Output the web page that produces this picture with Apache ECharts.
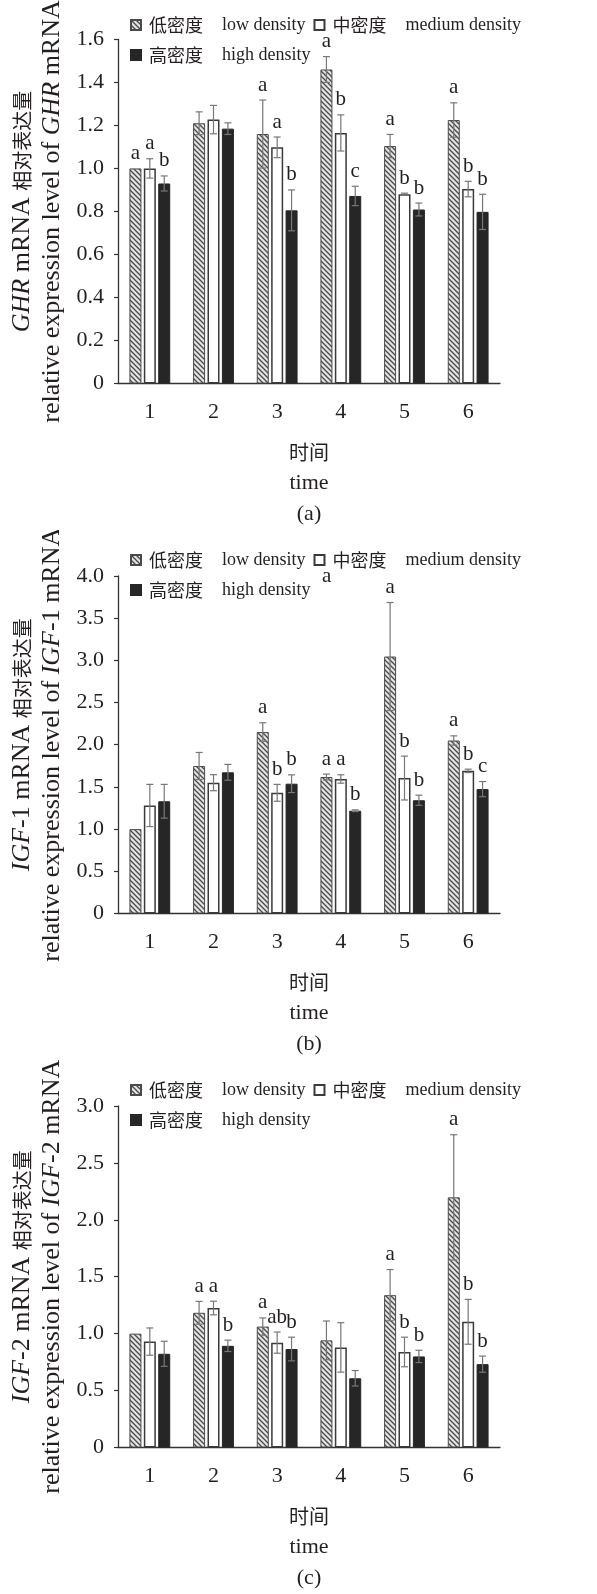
<!DOCTYPE html>
<html><head><meta charset="utf-8">
<script src="https://cdn.jsdelivr.net/npm/echarts@6/dist/echarts.min.js"></script>
<style>
html,body{margin:0;padding:0;background:#fff;}
.panel{position:absolute;left:0;width:597px;}
</style></head>
<body>
<div id="pa" class="panel" style="top:0;height:530px"></div>
<div id="pb" class="panel" style="top:530px;height:530px"></div>
<div id="pc" class="panel" style="top:1060px;height:534px"></div>
<script>
// ---------- data ----------
const categories = ['1', '2', '3', '4', '5', '6'];
const groupZh = ['低密度', '中密度', '高密度'];
const groupEn = ['low density', 'medium density', 'high density'];
const panelTags = ['(a)', '(b)', '(c)'];

// (a) GHR
const ghrLow = [1.00, 1.21, 1.16, 1.46, 1.104, 1.225];
const ghrMed = [1.00, 1.227, 1.098, 1.165, 0.88, 0.904];
const ghrHigh = [0.93, 1.185, 0.805, 0.872, 0.809, 0.798];
const ghrLowSd = [0, 0.053, 0.158, 0.06, 0.054, 0.08];
const ghrMedSd = [0.045, 0.066, 0.048, 0.084, 0.005, 0.036];
const ghrHighSd = [0.035, 0.027, 0.095, 0.045, 0.03, 0.082];
const ghrLowSig = ['a', '', 'a', 'a', 'a', 'a'];
const ghrMedSig = ['a', '', 'a', 'b', 'b', 'b'];
const ghrHighSig = ['b', '', 'b', 'c', 'b', 'b'];
const ghrTicks = ['0', '0.2', '0.4', '0.6', '0.8', '1.0', '1.2', '1.4', '1.6'];

// (b) IGF-1
const igf1Low = [1.00, 1.748, 2.15, 1.617, 3.045, 2.05];
const igf1Med = [1.28, 1.55, 1.43, 1.594, 1.605, 1.69];
const igf1High = [1.33, 1.673, 1.538, 1.218, 1.342, 1.474];
const igf1LowSd = [0, 0.16, 0.11, 0.035, 0.64, 0.055];
const igf1MedSd = [0.25, 0.095, 0.1, 0.05, 0.26, 0.02];
const igf1HighSd = [0.2, 0.094, 0.105, 0.01, 0.06, 0.09];
const igf1LowSig = ['', '', 'a', 'a', 'a', 'a'];
const igf1MedSig = ['', '', 'b', 'a', 'b', 'b'];
const igf1HighSig = ['', '', 'b', 'b', 'b', 'c'];
const igf1Ticks = ['0', '0.5', '1.0', '1.5', '2.0', '2.5', '3.0', '3.5', '4.0'];

// (c) IGF-2
const igf2Low = [1.00, 1.183, 1.062, 0.941, 1.338, 2.197];
const igf2Med = [0.93, 1.225, 0.921, 0.879, 0.839, 1.104];
const igf2High = [0.823, 0.893, 0.865, 0.608, 0.80, 0.732];
const igf2LowSd = [0, 0.10, 0.076, 0.17, 0.225, 0.55];
const igf2MedSd = [0.12, 0.06, 0.093, 0.217, 0.13, 0.197];
const igf2HighSd = [0.11, 0.05, 0.104, 0.068, 0.054, 0.071];
const igf2LowSig = ['', 'a', 'a', '', 'a', 'a'];
const igf2MedSig = ['', 'a', 'ab', '', 'b', 'b'];
const igf2HighSig = ['', 'b', 'b', '', 'b', 'b'];
const igf2Ticks = ['0', '0.5', '1.0', '1.5', '2.0', '2.5', '3.0'];

// ---------- style ----------
const SERIF = "'Liberation Serif', 'Times New Roman', serif";
const CJK = "'Noto Sans CJK SC', sans-serif";
const TXT = '#231f20';
const BAR_W = 12, BAR_GAP = 0.2, BAR_STEP = BAR_W * (1 + BAR_GAP);

function hatchCanvas() {
  const c = document.createElement('canvas');
  c.width = 5; c.height = 5;
  const g = c.getContext('2d');
  g.fillStyle = '#e4e4e4'; g.fillRect(0, 0, 5, 5);
  g.strokeStyle = '#4a4a4a'; g.lineWidth = 1.3;
  g.beginPath();
  g.moveTo(-1, -1); g.lineTo(6, 6);
  g.moveTo(-1, 4); g.lineTo(1, 6);
  g.moveTo(4, -1); g.lineTo(6, 1);
  g.stroke();
  return c;
}
const HATCH = { image: hatchCanvas(), repeat: 'repeat' };
const groupStyles = [
  { color: HATCH, borderColor: '#4a4a4a', borderWidth: 1 },
  { color: '#ffffff', borderColor: '#3a3a3a', borderWidth: 1.5 },
  { color: '#262626', borderColor: '#262626', borderWidth: 1 }
];

function errRender(idx, sdArr, sigArr) {
  return function (params, api) {
    const ci = api.value(0), v = api.value(1);
    const sd = sdArr[params.dataIndex];
    const sig = sigArr[params.dataIndex];
    const x = api.coord([ci, v])[0] + (idx - 1) * BAR_STEP;
    const top = api.coord([ci, v + sd])[1];
    const bot = api.coord([ci, v - sd])[1];
    const st = { stroke: '#777', lineWidth: 1.2 };
    const ch = [];
    if (sd > 0) {
      ch.push({ type: 'line', shape: { x1: x, y1: top, x2: x, y2: bot }, style: st });
      ch.push({ type: 'line', shape: { x1: x - 3.5, y1: top, x2: x + 3.5, y2: top }, style: st });
      ch.push({ type: 'line', shape: { x1: x - 3.5, y1: bot, x2: x + 3.5, y2: bot }, style: st });
    }
    if (sig) {
      ch.push({ type: 'text', style: { text: sig, x: x, y: top - 15, align: 'center', verticalAlign: 'middle',
        fontSize: 21, fontFamily: SERIF, fill: TXT } });
    }
    return { type: 'group', children: ch };
  };
}

function build(el, cfg) {
  const chart = echarts.init(document.getElementById(el));
  const names = groupZh.map((z, i) => z + ' ' + groupEn[i]);
  const series = [];
  cfg.values.forEach((vals, i) => {
    series.push({ type: 'bar', name: names[i], data: vals, barWidth: BAR_W, barGap: (BAR_GAP * 100) + '%',
      itemStyle: groupStyles[i], z: 2, silent: true });
  });
  cfg.values.forEach((vals, i) => {
    series.push({ type: 'custom', name: 'err' + i, z: 5, silent: true,
      data: vals.map((v, k) => [k, v]), encode: { x: 0, y: 1 },
      renderItem: errRender(i, cfg.sds[i], cfg.sigs[i]) });
  });
  const tickVals = cfg.ticks.map(Number);
  const option = {
    animation: false,
    backgroundColor: '#fff',
    legend: {
      left: 130, top: cfg.legendTop, width: 400, orient: 'horizontal', padding: 0,
      itemWidth: 10, itemHeight: 10, itemGap: 8, icon: 'rect',
      data: names,
      formatter: n => { const i = names.indexOf(n); return '{zh|' + groupZh[i] + '}{en|' + groupEn[i] + '}'; },
      textStyle: { color: TXT, lineHeight: 22, rich: {
        zh: { fontFamily: CJK, fontSize: 18, color: TXT, padding: [0, 19, 0, 3], lineHeight: 22 },
        en: { fontFamily: SERIF, fontSize: 18, color: TXT, lineHeight: 22 } } }
    },
    grid: { left: 118, right: 97, top: cfg.gridTop, height: cfg.gridH, containLabel: false },
    xAxis: {
      type: 'category', data: categories, boundaryGap: true,
      axisLine: { lineStyle: { color: '#333', width: 1.3 } },
      axisTick: { inside: true, length: 5, lineStyle: { color: '#333', width: 1.2 } },
      axisLabel: { fontFamily: SERIF, fontSize: 22, color: TXT, margin: 18 },
      name: '{zh|时间}\n{en|time}\n{en|' + cfg.tag + '}',
      nameLocation: 'middle', nameGap: 53,
      nameTextStyle: { rich: {
        zh: { fontFamily: CJK, fontSize: 20, color: TXT, lineHeight: 31 },
        en: { fontFamily: SERIF, fontSize: 22, color: TXT, lineHeight: 31 } } }
    },
    yAxis: {
      type: 'value', min: tickVals[0], max: tickVals[tickVals.length - 1], interval: tickVals[1] - tickVals[0],
      splitLine: { show: false },
      axisLine: { show: true, lineStyle: { color: '#333', width: 1.3 } },
      axisTick: { show: true, length: 4, lineStyle: { color: '#333', width: 1.2 } },
      axisLabel: { fontFamily: SERIF, fontSize: 22, color: TXT, margin: 14,
        formatter: v => { const k = tickVals.findIndex(t => Math.abs(t - v) < 1e-6); return k >= 0 ? cfg.ticks[k] : ''; } },
      name: '{i|' + cfg.gene + '}{n|' + cfg.suffix + ' mRNA }{zh|相对表达量}\n{n|relative expression level of }{i|' + cfg.gene + '}{n|' + cfg.suffix + ' mRNA}',
      nameLocation: 'middle', nameGap: 46, nameRotate: 90,
      nameTextStyle: { rich: {
        i: { fontFamily: SERIF, fontStyle: 'italic', fontSize: 26, color: TXT, lineHeight: 30 },
        n: { fontFamily: SERIF, fontSize: 26, color: TXT, lineHeight: 30 },
        zh: { fontFamily: CJK, fontSize: 20, color: TXT, lineHeight: 30 } } }
    },
    graphic: cfg.graphic || [],
    series: series
  };
  chart.setOption(option);
}

build('pa', { values: [ghrLow, ghrMed, ghrHigh], sds: [ghrLowSd, ghrMedSd, ghrHighSd],
  sigs: [ghrLowSig, ghrMedSig, ghrHighSig], ticks: ghrTicks, gene: 'GHR', suffix: '', tag: panelTags[0],
  legendTop: 14, gridTop: 35, gridH: 354 });
build('pb', { values: [igf1Low, igf1Med, igf1High], sds: [igf1LowSd, igf1MedSd, igf1HighSd],
  sigs: [igf1LowSig, igf1MedSig, igf1HighSig], ticks: igf1Ticks, gene: 'IGF', suffix: '-1', tag: panelTags[1],
  legendTop: 19, gridTop: 35, gridH: 359,
  graphic: [{ type: 'text', left: 322, top: 36, style: { text: 'a', fontSize: 21, fontFamily: SERIF, fill: TXT } }] });
build('pc', { values: [igf2Low, igf2Med, igf2High], sds: [igf2LowSd, igf2MedSd, igf2HighSd],
  sigs: [igf2LowSig, igf2MedSig, igf2HighSig], ticks: igf2Ticks, gene: 'IGF', suffix: '-2', tag: panelTags[2],
  legendTop: 19, gridTop: 39, gridH: 355 });
</script>
</body></html>
